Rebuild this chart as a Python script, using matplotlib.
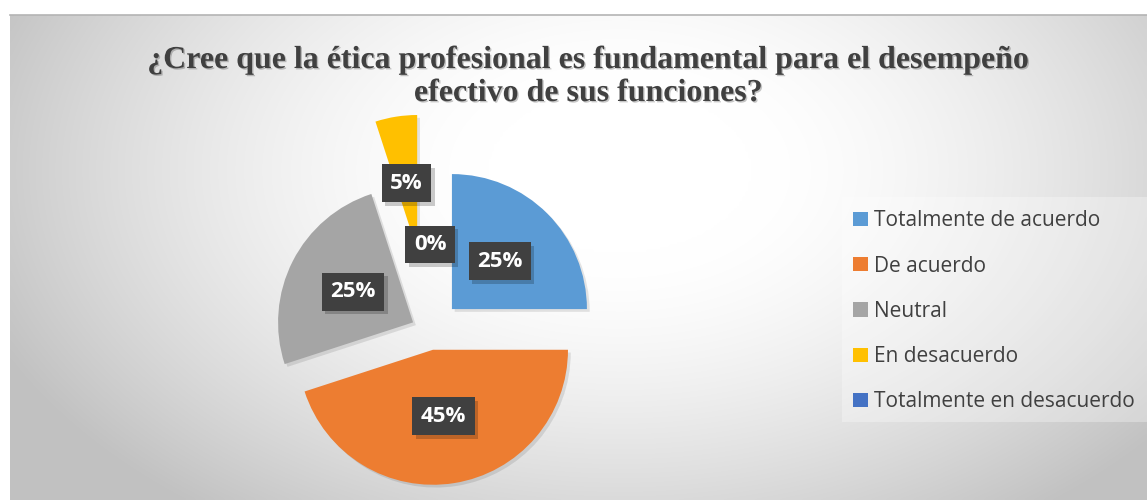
import numpy as np
import matplotlib
matplotlib.use("Agg")
import matplotlib.pyplot as plt
import matplotlib.patheffects as pe
from matplotlib.patches import Patch, Rectangle

# ---------------- data ----------------
title = "¿Cree que la ética profesional es fundamental para el desempeño\nefectivo de sus funciones?"
categories = ["Totalmente de acuerdo", "De acuerdo", "Neutral", "En desacuerdo",
              "Totalmente en desacuerdo"]
values = [25, 45, 25, 5, 0]

# ---------------- style ----------------
colors = ["#5B9BD5", "#ED7D31", "#A5A5A5", "#FFC000", "#4472C4"]
explode_px = [31, 19, 19, 82, 19]
W, H = 1147, 500
center = (430, H - 331)
radius = 135

fig = plt.figure(figsize=(W / 100, H / 100), dpi=100)
fig.patch.set_facecolor("white")
ax = fig.add_axes([0, 0, 1, 1])

# background radial gradient (chart area)
x0, x1, ytop, ybot = 10, W, 15, H
xs = np.linspace(x0, x1, 400)
ys = np.linspace(ytop, ybot, 200)
X, Y = np.meshgrid(xs, ys)
t = np.sqrt(((X - 620) / 680) ** 2 + ((Y - 170) / 430) ** 2)
t = np.clip((t - 0.2) / 0.8, 0, 1) ** 1.5
g = 1.0 - (1.0 - 0.76) * t
img = np.dstack([g, g, g])
ax.imshow(img, extent=[x0, x1, H - ybot, H - ytop], origin="upper",
          interpolation="bicubic", zorder=0, aspect="auto")
ax.plot([x0, x1], [H - ytop, H - ytop], color="#b4b4b4", lw=1.2, zorder=1)

wedges, texts, autotexts = ax.pie(
    values, colors=colors, explode=explode_px, startangle=90,
    counterclock=False, radius=radius, center=center,
    autopct="%.0f%%", pctdistance=0.5,
    wedgeprops=dict(linewidth=0, zorder=2),
    textprops=dict(color="white", fontsize=16, fontweight="bold",
                   family=["Open Sans", "DejaVu Sans"]))
for w in wedges:
    w.set_path_effects([pe.SimplePatchShadow(offset=(2, -2), shadow_rgbFace="#000000",
                                             alpha=0.10), pe.Normal()])
for at in autotexts:
    at.set_zorder(5)
    at.set_bbox(dict(boxstyle="square,pad=0.38", facecolor="#404040",
                     edgecolor="none", linewidth=0))
    at.get_bbox_patch().set_path_effects(
        [pe.SimplePatchShadow(offset=(2.5, -2.5), shadow_rgbFace="#000000", alpha=0.2),
         pe.Normal()])

ax.set_xlim(0, W)
ax.set_ylim(0, H)
ax.set_aspect("equal")
ax.axis("off")

# title
ax.text(589, H - 77, title, ha="center", va="center", fontsize=23,
        fontweight="bold", family=["Liberation Serif", "DejaVu Serif"],
        color="#404040", linespacing=1.18, zorder=6,
        path_effects=[pe.SimplePatchShadow(offset=(1, -1), shadow_rgbFace="#000000",
                                           alpha=0.22), pe.Normal()])

# legend
ax.add_patch(Rectangle((842, H - 422), W - 842, 225, facecolor="white",
                       alpha=0.3, edgecolor="none", zorder=1))
handles = [Patch(facecolor=c, edgecolor="none") for c in colors]
leg = fig.legend(handles, categories, loc="upper left",
                 bbox_to_anchor=(842 / W, 1 - 199 / H), borderaxespad=0,
                 frameon=False, labelcolor="#404040",
                 handlelength=0.68, handleheight=0.68, handletextpad=0.3,
                 labelspacing=1.16, borderpad=0.55,
                 prop=dict(family=["Open Sans", "DejaVu Sans"], size=15))

fig.savefig("out.png", dpi=100, facecolor=fig.get_facecolor())
